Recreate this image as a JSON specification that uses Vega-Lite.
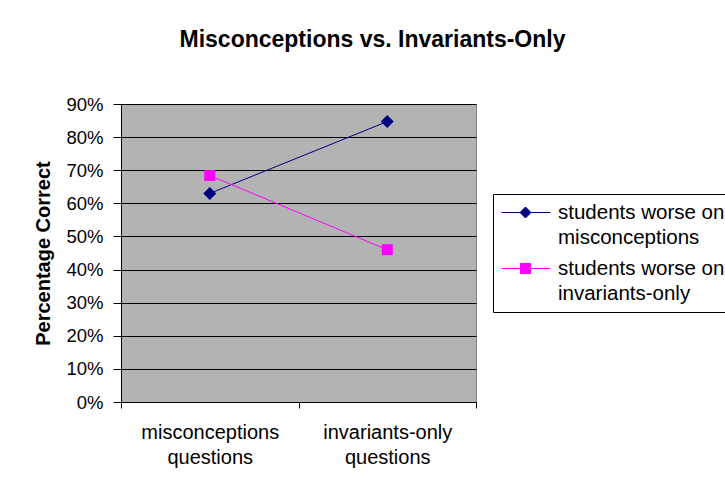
{
  "$schema": "https://vega.github.io/schema/vega-lite/v6.json",
  "width": 355,
  "height": 298,
  "autosize": {"type": "none"},
  "padding": {"left": 121, "top": 104, "right": 249, "bottom": 84},
  "background": "white",
  "title": {
    "text": "Misconceptions vs. Invariants-Only",
    "font": "Liberation Sans",
    "fontSize": 23,
    "fontWeight": "bold",
    "color": "black",
    "anchor": "middle",
    "frame": "group",
    "dx": 74,
    "baseline": "top",
    "offset": 43
  },
  "data": {
    "values": [
      {"question": "misconceptions questions", "series": "students worse on misconceptions", "pct": 0.63},
      {"question": "invariants-only questions", "series": "students worse on misconceptions", "pct": 0.847},
      {"question": "misconceptions questions", "series": "students worse on invariants-only", "pct": 0.684},
      {"question": "invariants-only questions", "series": "students worse on invariants-only", "pct": 0.46}
    ]
  },
  "encoding": {
    "x": {
      "field": "question",
      "type": "nominal",
      "sort": null,
      "scale": {"paddingInner": 0, "paddingOuter": 0},
      "axis": {
        "title": null,
        "labelExpr": "split(datum.label, ' ')",
        "labelFont": "Liberation Sans",
        "labelFontSize": 20,
        "labelLineHeight": 25,
        "labelColor": "black",
        "labelAngle": 0,
        "labelBaseline": "top",
        "labelPadding": 14,
        "tickSize": 6,
        "tickColor": "black",
        "tickBand": "extent",
        "domainColor": "black",
        "grid": false
      }
    },
    "y": {
      "field": "pct",
      "type": "quantitative",
      "scale": {"domain": [0, 0.9], "nice": false},
      "axis": {
        "title": "Percentage Correct",
        "titleFont": "Liberation Sans",
        "titleFontSize": 20,
        "titleFontWeight": "bold",
        "titleColor": "black",
        "titlePadding": 12,
        "format": ".0%",
        "values": [0, 0.1, 0.2, 0.3, 0.4, 0.5, 0.6, 0.7, 0.8, 0.9],
        "labelFont": "Liberation Sans",
        "labelFontSize": 18.5,
        "labelColor": "black",
        "labelPadding": 10,
        "tickSize": 8,
        "tickColor": "black",
        "domainColor": "black",
        "grid": true,
        "gridColor": "black",
        "gridOpacity": 1,
        "gridWidth": 1
      }
    }
  },
  "layer": [
    {
      "transform": [{"filter": "datum.series == 'students worse on misconceptions'"}],
      "mark": {"type": "line", "strokeWidth": 1, "color": "#000080"}
    },
    {
      "transform": [{"filter": "datum.series == 'students worse on invariants-only'"}],
      "mark": {"type": "line", "strokeWidth": 1, "color": "#FF00FF"}
    },
    {
      "transform": [{"filter": "datum.series == 'students worse on misconceptions'"}],
      "mark": {"type": "point", "shape": "diamond", "filled": true, "size": 169, "color": "#000080", "opacity": 1}
    },
    {
      "transform": [{"filter": "datum.series == 'students worse on invariants-only'"}],
      "mark": {"type": "point", "shape": "square", "filled": true, "size": 121, "color": "#FF00FF", "opacity": 1}
    },
    {
      "mark": {"type": "point", "filled": true, "size": 0, "opacity": 1, "fillOpacity": 1, "strokeWidth": 1},
      "encoding": {
        "fill": {
          "field": "series",
          "type": "nominal",
          "scale": {"domain": ["students worse on misconceptions", "students worse on invariants-only"], "range": ["#000080", "#FF00FF"]},
          "legend": {
            "orient": "none",
            "legendX": 372,
            "legendY": 90,
            "title": null,
            "strokeColor": "black",
            "padding": 8,
            "symbolSize": 400,
            "symbolStrokeWidth": 1,
            "symbolOpacity": 1,
            "labelFont": "Liberation Sans",
            "labelFontSize": 20.5,
            "labelColor": "black",
            "labelOffset": 36,
            "labelLimit": 0,
            "rowPadding": 10,
            "labelExpr": "datum.label == 'students worse on misconceptions' ? ['students worse on', 'misconceptions'] : ['students worse on', 'invariants-only']"
          }
        },
        "stroke": {
          "field": "series",
          "type": "nominal",
          "scale": {"domain": ["students worse on misconceptions", "students worse on invariants-only"], "range": ["#000080", "#FF00FF"]}
        },
        "shape": {
          "field": "series",
          "type": "nominal",
          "scale": {
            "domain": ["students worse on misconceptions", "students worse on invariants-only"],
            "range": [
              "M-1,0L3.9,0M0.85,0L1.4,-0.55L1.95,0L1.4,0.55Z",
              "M-1,0L3.9,0M0.9,-0.5L1.9,-0.5L1.9,0.5L0.9,0.5Z"
            ]
          }
        }
      }
    }
  ],
  "config": {
    "view": {"stroke": "#808080", "fill": "#B3B3B3"},
    "style": {"guide-label": {"lineHeight": 25}}
  }
}
